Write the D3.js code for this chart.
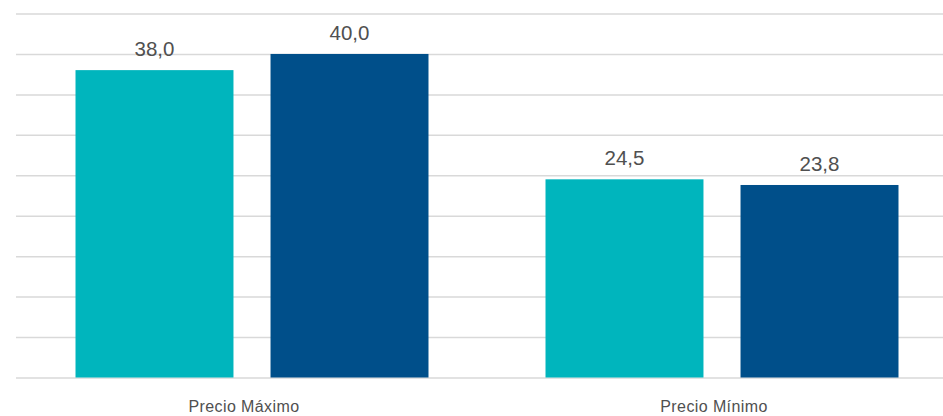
<!DOCTYPE html>
<html><head><meta charset="utf-8">
<script src="https://cdn.jsdelivr.net/npm/d3@7"></script>
<style>
html,body{margin:0;padding:0;background:#fff;}
svg{display:block;}
</style></head>
<body>
<script>
const categories = ["Precio Máximo", "Precio Mínimo"];
const seriesNames = ["Serie 1", "Serie 2"];
const series1 = [38.0, 24.5];
const series2 = [40.0, 23.8];
const yTicks = [0, 5, 10, 15, 20, 25, 30, 35, 40, 45];
const colors = ["#00B5BD", "#004F8A"];

const W = 943, H = 416;
const svg = d3.select("body").append("svg").attr("width", W).attr("height", H);

const x = d3.scaleBand().domain(categories).range([16, 956]).paddingInner(0).paddingOuter(0);
const x1 = d3.scaleBand().domain(seriesNames).range([0, x.bandwidth()]).paddingInner(0.19).paddingOuter(0.3);
const y = d3.scaleLinear().domain([0, 45]).range([377.5, 13.5]);

const gridAxis = d3.axisLeft(y).tickValues(yTicks).tickSize(-(W - 16)).tickFormat("");
const g = svg.append("g").attr("transform", "translate(16,0)").call(gridAxis);
g.select(".domain").remove();
g.selectAll(".tick line").attr("stroke", "#d9d9d9").attr("stroke-width", 1.5);

const data = categories.map((c, i) => ({cat: c, vals: [series1[i], series2[i]]}));

const groups = svg.append("g").selectAll("g").data(data).join("g")
  .attr("transform", d => `translate(${x(d.cat)},0)`);

groups.selectAll("rect").data(d => d.vals.map((v, j) => ({v, s: seriesNames[j], j})))
  .join("rect")
  .attr("x", d => x1(d.s) + 1)
  .attr("width", x1.bandwidth())
  .attr("y", d => y(d.v))
  .attr("height", d => y(0) - y(d.v))
  .attr("fill", d => colors[d.j]);

groups.selectAll("text").data(d => d.vals.map((v, j) => ({v, s: seriesNames[j], j})))
  .join("text")
  .attr("x", d => x1(d.s) + 1 + x1.bandwidth() / 2)
  .attr("y", d => y(d.v) - 14)
  .attr("text-anchor", "middle")
  .attr("font-family", "Liberation Sans, Arial, sans-serif")
  .attr("font-size", 20.5)
  .attr("fill", "#505050")
  .text(d => d3.format(".1f")(d.v).replace(".", ","));

const xAxis = d3.axisBottom(x).tickSize(0).tickPadding(0);
const xg = svg.append("g").attr("transform", "translate(0,377.5)").call(xAxis);
xg.select(".domain").remove();
xg.selectAll(".tick text")
  .attr("dx", -7)
  .attr("dy", 0)
  .attr("y", 34)
  .attr("font-family", "Liberation Sans, Arial, sans-serif")
  .attr("font-size", 16)
  .attr("letter-spacing", "0.4px")
  .attr("fill", "#505050");
</script>
</body></html>
